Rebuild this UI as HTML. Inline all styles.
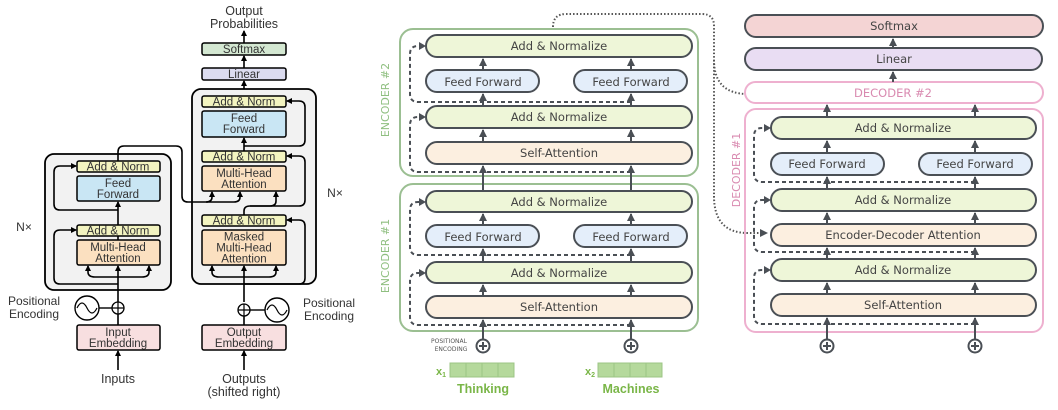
<!DOCTYPE html>
<html><head><meta charset="utf-8"><style>
html,body{margin:0;padding:0;background:#fff;}
svg{display:block;}
.l{font-family:"Liberation Sans",sans-serif;font-size:11.5px;fill:#333;text-anchor:middle;}
.r{font-family:"DejaVu Sans","Liberation Sans",sans-serif;font-size:11.5px;fill:#444;text-anchor:middle;}
</style></head><body>
<svg width="1058" height="410" viewBox="0 0 1058 410" xmlns="http://www.w3.org/2000/svg">
<defs>
<marker id="ab" markerWidth="6" markerHeight="6" refX="5" refY="3" orient="auto" markerUnits="userSpaceOnUse"><path d="M0,0 L6,3 L0,6 z" fill="#000"/></marker>
<marker id="ag" markerWidth="8" markerHeight="8" refX="7" refY="4" orient="auto" markerUnits="userSpaceOnUse"><path d="M0,0 L8,4 L0,8 z" fill="#4a4f55"/></marker>
</defs>

<!-- ===== LEFT ===== -->
<text class="l" x="244" y="15" style="font-size:12.5px">Output</text>
<text class="l" x="244" y="28" style="font-size:12.5px">Probabilities</text>
<g stroke="#000" stroke-width="1.6" fill="none">
<line x1="244" y1="43" x2="244" y2="31" marker-end="url(#ab)"/>
<line x1="244" y1="68" x2="244" y2="56" marker-end="url(#ab)"/>
<line x1="244" y1="96" x2="244" y2="81" marker-end="url(#ab)"/>
</g>
<rect x="202" y="43" width="84" height="12" rx="2" fill="#d4e8d2" stroke="#000" stroke-width="1.5"/>
<text class="l" x="244" y="53">Softmax</text>
<rect x="202" y="68" width="84" height="12" rx="2" fill="#dcdcf0" stroke="#000" stroke-width="1.5"/>
<text class="l" x="244" y="78">Linear</text>

<rect x="192" y="89" width="124" height="195" rx="9" fill="#f2f2f2" stroke="#000" stroke-width="1.8"/>
<rect x="45" y="154" width="126" height="136" rx="9" fill="#f2f2f2" stroke="#000" stroke-width="1.8"/>

<g stroke="#000" stroke-width="1.6" fill="none">
<line x1="118" y1="325" x2="118" y2="314"/>
<line x1="118" y1="302" x2="118" y2="266" marker-end="url(#ab)"/>
<path d="M118,277 L95,277 Q88,277 88,272 L88,266" marker-end="url(#ab)"/>
<path d="M118,277 L142,277 Q149,277 149,272 L149,266" marker-end="url(#ab)"/>
<path d="M118,284 L60,284 Q54,284 54,278 L54,236 Q54,230 60,230 L76,230" marker-end="url(#ab)"/>
<line x1="118" y1="236" x2="118" y2="240"/>
<line x1="118" y1="225" x2="118" y2="202" marker-end="url(#ab)"/>
<path d="M118,210 L60,210 Q54,210 54,204 L54,172 Q54,166 60,166 L76,166" marker-end="url(#ab)"/>
<path d="M118,161 L118,152 Q118,146 124,146 L176,146 Q182,146 182,152 L182,196 Q182,202 188,202 L234,202 Q240,202 240,197 L240,192" marker-end="url(#ab)"/>
<path d="M206,202 Q212,202 212,197 L212,192" marker-end="url(#ab)"/>
<line x1="118" y1="370" x2="118" y2="351" marker-end="url(#ab)"/>
<line x1="244" y1="302" x2="244" y2="266" marker-end="url(#ab)"/>
<line x1="244" y1="325" x2="244" y2="316"/>
<line x1="244" y1="370" x2="244" y2="351" marker-end="url(#ab)"/>
<path d="M244,277 L219,277 Q212,277 212,272 L212,266" marker-end="url(#ab)"/>
<path d="M244,277 L269,277 Q276,277 276,272 L276,266" marker-end="url(#ab)"/>
<path d="M244,284 L299,284 Q305,284 305,278 L305,226 Q305,220 299,220 L287,220" marker-end="url(#ab)"/>
<path d="M244,215 L244,211 Q244,206 250,206 L270,206 Q276,206 276,201 L276,192" marker-end="url(#ab)"/>
<path d="M250,206 L299,206 Q305,206 305,200 L305,162 Q305,156 299,156 L287,156" marker-end="url(#ab)"/>
<line x1="244" y1="151" x2="244" y2="138" marker-end="url(#ab)"/>
<path d="M244,146 L299,146 Q305,146 305,140 L305,107 Q305,101 299,101 L287,101" marker-end="url(#ab)"/>
</g>

<rect x="77" y="161" width="83" height="11" rx="2" fill="#f3f4c0" stroke="#000" stroke-width="1.5"/>
<text class="l" x="118" y="170.5">Add &amp; Norm</text>
<rect x="77" y="176" width="83" height="25" rx="2" fill="#c9e6f4" stroke="#000" stroke-width="1.5"/>
<text class="l" x="118" y="187">Feed</text><text class="l" x="118" y="198">Forward</text>
<rect x="77" y="225" width="83" height="11" rx="2" fill="#f3f4c0" stroke="#000" stroke-width="1.5"/>
<text class="l" x="118" y="234.5">Add &amp; Norm</text>
<rect x="77" y="240" width="83" height="25" rx="2" fill="#fbe0c0" stroke="#000" stroke-width="1.5"/>
<text class="l" x="118" y="251">Multi-Head</text><text class="l" x="118" y="262">Attention</text>
<text class="l" x="24" y="231" style="font-size:12px">N×</text>

<rect x="202" y="96" width="84" height="11" rx="2" fill="#f3f4c0" stroke="#000" stroke-width="1.5"/>
<text class="l" x="244" y="105.5">Add &amp; Norm</text>
<rect x="202" y="111" width="84" height="26" rx="2" fill="#c9e6f4" stroke="#000" stroke-width="1.5"/>
<text class="l" x="244" y="122">Feed</text><text class="l" x="244" y="133">Forward</text>
<rect x="202" y="151" width="84" height="11" rx="2" fill="#f3f4c0" stroke="#000" stroke-width="1.5"/>
<text class="l" x="244" y="160.5">Add &amp; Norm</text>
<rect x="202" y="166" width="84" height="25" rx="2" fill="#fbe0c0" stroke="#000" stroke-width="1.5"/>
<text class="l" x="244" y="177">Multi-Head</text><text class="l" x="244" y="188">Attention</text>
<rect x="202" y="215" width="84" height="11" rx="2" fill="#f3f4c0" stroke="#000" stroke-width="1.5"/>
<text class="l" x="244" y="224.5">Add &amp; Norm</text>
<rect x="202" y="230" width="84" height="35" rx="2" fill="#fbe0c0" stroke="#000" stroke-width="1.5"/>
<text class="l" x="244" y="240.5">Masked</text><text class="l" x="244" y="251.5">Multi-Head</text><text class="l" x="244" y="262.5">Attention</text>
<text class="l" x="335" y="197" style="font-size:12px">N×</text>

<text class="l" x="34" y="305" style="font-size:12px">Positional</text>
<text class="l" x="34" y="318" style="font-size:12px">Encoding</text>
<circle cx="87" cy="308" r="12" fill="#fff" stroke="#000" stroke-width="1.4"/>
<path d="M77,308 Q82,298 87,308 Q92,318 97,308" fill="none" stroke="#000" stroke-width="1.2"/>
<line x1="99" y1="308" x2="112" y2="308" stroke="#000" stroke-width="1.4"/>
<circle cx="118" cy="308" r="6" fill="#fff" stroke="#000" stroke-width="1.3"/>
<path d="M112,308 H124 M118,302 V314" stroke="#000" stroke-width="1.2"/>
<text class="l" x="329" y="307" style="font-size:12px">Positional</text>
<text class="l" x="329" y="320" style="font-size:12px">Encoding</text>
<circle cx="277" cy="310" r="12" fill="#fff" stroke="#000" stroke-width="1.4"/>
<path d="M267,310 Q272,300 277,310 Q282,320 287,310" fill="none" stroke="#000" stroke-width="1.2"/>
<line x1="250" y1="310" x2="265" y2="310" stroke="#000" stroke-width="1.4"/>
<circle cx="244" cy="310" r="6" fill="#fff" stroke="#000" stroke-width="1.3"/>
<path d="M238,310 H250 M244,304 V316" stroke="#000" stroke-width="1.2"/>

<rect x="77" y="325" width="83" height="25" rx="2" fill="#f8dfe0" stroke="#000" stroke-width="1.5"/>
<text class="l" x="118" y="336">Input</text><text class="l" x="118" y="347">Embedding</text>
<rect x="202" y="325" width="84" height="25" rx="2" fill="#f8dfe0" stroke="#000" stroke-width="1.5"/>
<text class="l" x="244" y="336">Output</text><text class="l" x="244" y="347">Embedding</text>
<text class="l" x="118" y="383" style="font-size:12.5px">Inputs</text>
<text class="l" x="244" y="383" style="font-size:12.5px">Outputs</text>
<text class="l" x="244" y="396" style="font-size:12.5px">(shifted right)</text>

<!-- ===== MIDDLE ===== -->
<path d="M553,27 Q553,14 566,14 L702,14 Q714,14 714,26 L714,200" fill="none" stroke="#555" stroke-width="2" stroke-dasharray="1.5,2"/>
<path d="M714,60 Q714,94 748,94 L764,94" fill="none" stroke="#555" stroke-width="2" stroke-dasharray="1.5,2" marker-end="url(#ag)"/>
<path d="M714,196 Q714,233 748,233 L767,233" fill="none" stroke="#555" stroke-width="2" stroke-dasharray="1.5,2" marker-end="url(#ag)"/>

<rect x="400" y="29" width="298" height="147" rx="13" fill="#fff" stroke="#9bbf92" stroke-width="2"/>
<rect x="400" y="184" width="298" height="147" rx="13" fill="#fff" stroke="#9bbf92" stroke-width="2"/>
<text class="r" transform="translate(389,100) rotate(-90)" style="fill:#8fbf80;font-size:11px">ENCODER #2</text>
<text class="r" transform="translate(389,256) rotate(-90)" style="fill:#8fbf80;font-size:11px">ENCODER #1</text>

<g fill="none" stroke="#4a4f55" stroke-width="2" stroke-dasharray="4,3">
<path d="M631,172 L418,172 Q410,172 410,164 L410,125 Q410,117 418,117 L424,117"/>
<path d="M631,102 L418,102 Q410,102 410,94 L410,54 Q410,46 418,46 L424,46"/>
<path d="M631,325 L418,325 Q410,325 410,317 L410,281 Q410,273 418,273 L424,273"/>
<path d="M631,255 L418,255 Q410,255 410,247 L410,210 Q410,202 418,202 L424,202"/>
</g>
<g fill="#4a4f55">
<path d="M426,117 l-7,-4 v8z"/><path d="M426,46 l-7,-4 v8z"/><path d="M426,273 l-7,-4 v8z"/><path d="M426,202 l-7,-4 v8z"/>
</g>
<g stroke="#4a4f55" stroke-width="2">
<line x1="483" y1="142" x2="483" y2="130" marker-end="url(#ag)"/><line x1="631" y1="142" x2="631" y2="130" marker-end="url(#ag)"/>
<line x1="483" y1="106" x2="483" y2="94" marker-end="url(#ag)"/><line x1="631" y1="106" x2="631" y2="94" marker-end="url(#ag)"/>
<line x1="483" y1="70" x2="483" y2="59" marker-end="url(#ag)"/><line x1="631" y1="70" x2="631" y2="59" marker-end="url(#ag)"/>
<line x1="483" y1="191" x2="483" y2="166" marker-end="url(#ag)"/><line x1="631" y1="191" x2="631" y2="166" marker-end="url(#ag)"/>
<line x1="483" y1="296" x2="483" y2="285" marker-end="url(#ag)"/><line x1="631" y1="296" x2="631" y2="285" marker-end="url(#ag)"/>
<line x1="483" y1="262" x2="483" y2="249" marker-end="url(#ag)"/><line x1="631" y1="262" x2="631" y2="249" marker-end="url(#ag)"/>
<line x1="483" y1="225" x2="483" y2="214" marker-end="url(#ag)"/><line x1="631" y1="225" x2="631" y2="214" marker-end="url(#ag)"/>
<line x1="483" y1="339" x2="483" y2="320" marker-end="url(#ag)"/><line x1="631" y1="339" x2="631" y2="320" marker-end="url(#ag)"/>
</g>
<g stroke="#4a4f55" stroke-width="2">
<rect x="426" y="35" width="266" height="22" rx="11" fill="#eef6d8"/>
<rect x="426" y="70" width="113" height="22" rx="11" fill="#e4eefa"/>
<rect x="574" y="70" width="113" height="22" rx="11" fill="#e4eefa"/>
<rect x="426" y="106" width="266" height="22" rx="11" fill="#eef6d8"/>
<rect x="426" y="142" width="266" height="22" rx="11" fill="#fcefe0"/>
<rect x="426" y="191" width="266" height="21" rx="10.5" fill="#eef6d8"/>
<rect x="426" y="225" width="113" height="22" rx="11" fill="#e4eefa"/>
<rect x="574" y="225" width="113" height="22" rx="11" fill="#e4eefa"/>
<rect x="426" y="262" width="266" height="21" rx="10.5" fill="#eef6d8"/>
<rect x="426" y="296" width="266" height="22" rx="11" fill="#fcefe0"/>
</g>
<text class="r" x="559" y="50">Add &amp; Normalize</text>
<text class="r" x="483" y="86">Feed Forward</text><text class="r" x="631" y="86">Feed Forward</text>
<text class="r" x="559" y="121">Add &amp; Normalize</text>
<text class="r" x="559" y="157">Self-Attention</text>
<text class="r" x="559" y="206">Add &amp; Normalize</text>
<text class="r" x="483" y="241">Feed Forward</text><text class="r" x="631" y="241">Feed Forward</text>
<text class="r" x="559" y="277">Add &amp; Normalize</text>
<text class="r" x="559" y="311">Self-Attention</text>

<g stroke="#4a4f55" stroke-width="2" fill="#fff">
<circle cx="483" cy="346" r="6.5"/><circle cx="631" cy="346" r="6.5"/>
<circle cx="827" cy="346" r="6.5"/><circle cx="975" cy="346" r="6.5"/>
</g>
<path d="M479,346 h8 M483,342 v8 M627,346 h8 M631,342 v8 M823,346 h8 M827,342 v8 M971,346 h8 M975,342 v8" stroke="#4a4f55" stroke-width="2"/>
<text class="r" x="449" y="343" style="font-size:6px;fill:#555">POSITIONAL</text>
<text class="r" x="451" y="351" style="font-size:6px;fill:#555">ENCODING</text>

<g fill="#b5d99c" stroke="#9cc585" stroke-width="1">
<rect x="450" y="363" width="16" height="14"/><rect x="466" y="363" width="16" height="14"/><rect x="482" y="363" width="16" height="14"/><rect x="498" y="363" width="16" height="14"/>
<rect x="598" y="363" width="16" height="14"/><rect x="614" y="363" width="16" height="14"/><rect x="630" y="363" width="16" height="14"/><rect x="646" y="363" width="16" height="14"/>
</g>
<text x="441" y="375" font-family="Liberation Sans,sans-serif" font-size="11" font-weight="bold" fill="#7ab648" text-anchor="middle">x<tspan font-size="7" dy="2">1</tspan></text>
<text x="590" y="375" font-family="Liberation Sans,sans-serif" font-size="11" font-weight="bold" fill="#7ab648" text-anchor="middle">x<tspan font-size="7" dy="2">2</tspan></text>
<text x="483" y="393" font-family="Liberation Sans,sans-serif" font-size="12.5" font-weight="bold" fill="#7ab648" text-anchor="middle">Thinking</text>
<text x="631" y="393" font-family="Liberation Sans,sans-serif" font-size="12.5" font-weight="bold" fill="#7ab648" text-anchor="middle">Machines</text>

<!-- ===== RIGHT ===== -->
<rect x="745" y="82" width="298" height="21" rx="10.5" fill="#fff" stroke="#eeb0cf" stroke-width="2"/>
<text class="r" x="893" y="97" style="fill:#d98ab0">DECODER #2</text>
<rect x="745" y="109" width="298" height="223" rx="11" fill="none" stroke="#eeb0cf" stroke-width="2"/>
<text class="r" transform="translate(740,170) rotate(-90)" style="fill:#d98ab0;font-size:11px">DECODER #1</text>

<g fill="none" stroke="#4a4f55" stroke-width="2" stroke-dasharray="4,3">
<path d="M975,324 L762,324 Q754,324 754,316 L754,278 Q754,270 762,270 L768,270"/>
<path d="M975,252 L762,252 Q754,252 754,244 L754,208 Q754,200 762,200 L768,200"/>
<path d="M975,182 L762,182 Q754,182 754,174 L754,136 Q754,128 762,128 L768,128"/>
</g>
<g fill="#4a4f55">
<path d="M771,270 l-7,-4 v8z"/><path d="M771,200 l-7,-4 v8z"/><path d="M771,128 l-7,-4 v8z"/>
</g>
<g stroke="#4a4f55" stroke-width="2">
<line x1="893" y1="48" x2="893" y2="39" marker-end="url(#ag)"/>
<line x1="893" y1="82" x2="893" y2="72" marker-end="url(#ag)"/>
<line x1="827" y1="117" x2="827" y2="105" marker-end="url(#ag)"/><line x1="975" y1="117" x2="975" y2="105" marker-end="url(#ag)"/>
<line x1="827" y1="153" x2="827" y2="141" marker-end="url(#ag)"/><line x1="975" y1="153" x2="975" y2="141" marker-end="url(#ag)"/>
<line x1="827" y1="189" x2="827" y2="177" marker-end="url(#ag)"/><line x1="975" y1="189" x2="975" y2="177" marker-end="url(#ag)"/>
<line x1="827" y1="224" x2="827" y2="213" marker-end="url(#ag)"/><line x1="975" y1="224" x2="975" y2="213" marker-end="url(#ag)"/>
<line x1="827" y1="259" x2="827" y2="248" marker-end="url(#ag)"/><line x1="975" y1="259" x2="975" y2="248" marker-end="url(#ag)"/>
<line x1="827" y1="294" x2="827" y2="283" marker-end="url(#ag)"/><line x1="975" y1="294" x2="975" y2="283" marker-end="url(#ag)"/>
<line x1="827" y1="339" x2="827" y2="318" marker-end="url(#ag)"/><line x1="975" y1="339" x2="975" y2="318" marker-end="url(#ag)"/>
</g>
<g stroke="#4a4f55" stroke-width="2">
<rect x="745" y="15" width="298" height="22" rx="11" fill="#f4d4d4"/>
<rect x="745" y="48" width="297" height="22" rx="11" fill="#e9ddf3"/>
<rect x="771" y="117" width="265" height="22" rx="11" fill="#eef6d8"/>
<rect x="771" y="153" width="113" height="22" rx="11" fill="#e4eefa"/>
<rect x="919" y="153" width="113" height="22" rx="11" fill="#e4eefa"/>
<rect x="771" y="189" width="265" height="22" rx="11" fill="#eef6d8"/>
<rect x="771" y="224" width="265" height="22" rx="11" fill="#fcefe0"/>
<rect x="771" y="259" width="265" height="22" rx="11" fill="#eef6d8"/>
<rect x="771" y="294" width="265" height="22" rx="11" fill="#fcefe0"/>
</g>
<text class="r" x="894" y="30">Softmax</text>
<text class="r" x="894" y="63">Linear</text>
<text class="r" x="903" y="132">Add &amp; Normalize</text>
<text class="r" x="827" y="168">Feed Forward</text><text class="r" x="975" y="168">Feed Forward</text>
<text class="r" x="903" y="204">Add &amp; Normalize</text>
<text class="r" x="903" y="239">Encoder-Decoder Attention</text>
<text class="r" x="903" y="274">Add &amp; Normalize</text>
<text class="r" x="903" y="309">Self-Attention</text>
</svg>
</body></html>
